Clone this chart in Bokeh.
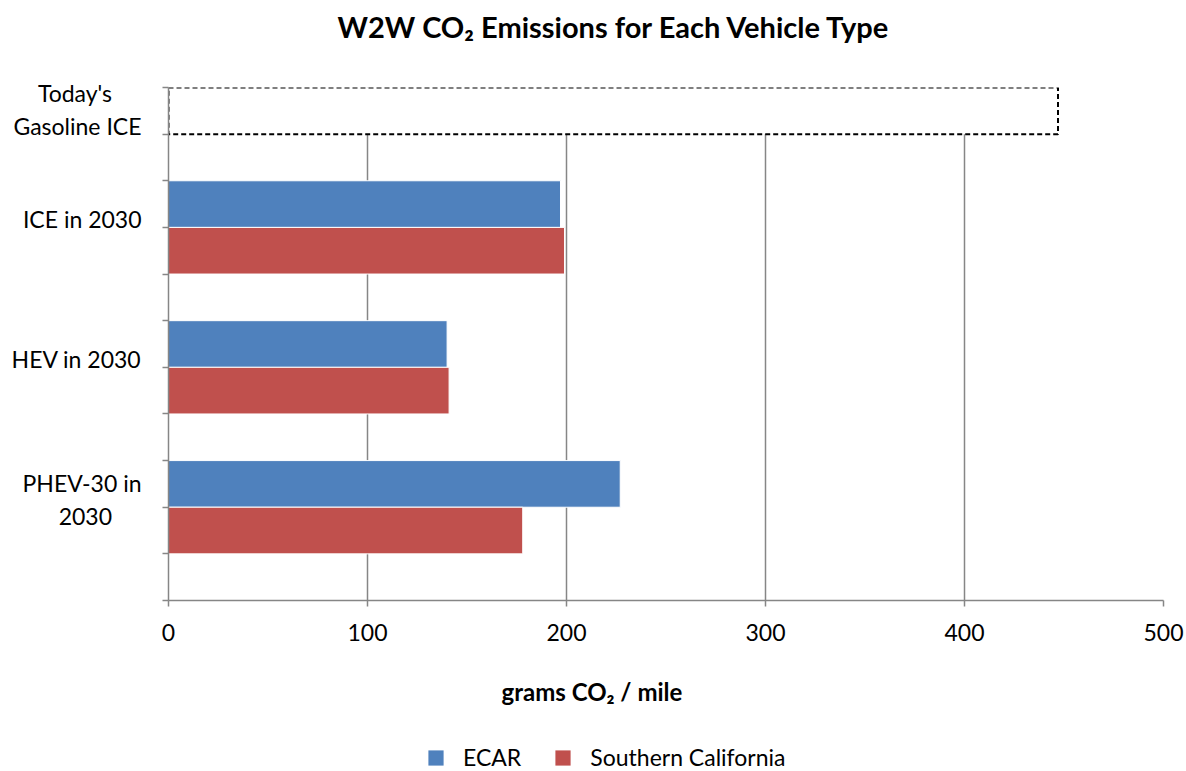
from bokeh.plotting import figure
from bokeh.layouts import column
from bokeh.models import (Range1d, FixedTicker, Title, Legend, LegendItem,
                          ColumnDataSource)
from bokeh.embed import file_html
from bokeh.resources import INLINE

# ---- data ----
vehicles = ["ICE in 2030", "HEV in 2030", "PHEV-30 in\n2030"]
ecar = [197, 140, 227]
socal = [199, 141, 178]
baseline_label = "Today's\nGasoline ICE"
baseline_value = 447
x_ticks = [0, 100, 200, 300, 400, 500]
title_text = "W2W CO\u2082 Emissions for Each Vehicle Type"
xlabel_text = "grams  CO\u2082 / mile"
series_names = ["ECAR", "Southern California"]

FONT = "Lato"
BLUE = "#4F81BD"
RED = "#C0504D"
GRAY = "#868686"
NB = "\u00a0"

def center_lines(text, pads):
    # pad shorter lines with no-break spaces so that lines look centred
    lines = text.split("\n")
    return "\n".join(l + NB * n for l, n in zip(lines, pads))

# slot layout (each slot = one bar; gaps between groups)
n_slots = 11
top_slot = n_slots - 1
blue_y, red_y, label_y = [], [], {}
pads = {"PHEV-30 in\n2030": [0, 5]}
for i, v in enumerate(vehicles):
    b = top_slot - 2 - 3 * i          # bottom of blue slot
    blue_y.append(b + 0.5)
    red_y.append(b - 0.5)
    label_y[b + 0.17] = center_lines(v, pads.get(v, [0, 0]))
label_y[top_slot + 0.53] = center_lines(baseline_label, [5, 0])

MAIN_H = 740
p = figure(width=1186, height=MAIN_H, output_backend="svg", toolbar_location=None,
           x_range=Range1d(0, 500), y_range=Range1d(0, n_slots),
           min_border_left=168, min_border_right=23, min_border_top=87,
           min_border_bottom=MAIN_H - 600)
p.outline_line_color = None
p.background_fill_color = "white"
p.border_fill_color = "white"

src_b = ColumnDataSource(dict(y=blue_y, right=ecar))
src_r = ColumnDataSource(dict(y=red_y, right=socal))
src_g = ColumnDataSource(dict(y=[top_slot + 0.5], right=[baseline_value]))

p.hbar(y="y", right="right", left=0, height=1, source=src_g,
       fill_color="white", line_color="black", line_width=2, line_dash="5 3")
p.hbar(y="y", right="right", left=0, height=1, source=src_b,
       fill_color=BLUE, line_color="white", line_width=1)
p.hbar(y="y", right="right", left=0, height=1, source=src_r,
       fill_color=RED, line_color="white", line_width=1)

# axes
xa = p.xaxis[0]
xa.ticker = FixedTicker(ticks=x_ticks)
xa.axis_line_color = GRAY
xa.axis_line_width = 1.5
xa.major_tick_line_color = GRAY
xa.major_tick_line_width = 1.5
xa.major_tick_out = 6
xa.major_tick_in = 0
xa.minor_tick_line_color = None
xa.major_label_text_font = FONT
xa.major_label_text_font_size = "23px"
xa.major_label_text_color = "black"
xa.major_label_standoff = 17

ya = p.yaxis[0]
ya.ticker = FixedTicker(ticks=sorted(label_y.keys()), minor_ticks=list(range(n_slots + 1)))
ya.major_label_overrides = {k: v for k, v in label_y.items()}
ya.axis_line_color = GRAY
ya.axis_line_width = 1.5
ya.major_tick_line_color = None
ya.major_tick_out = 0
ya.major_tick_in = 0
ya.minor_tick_line_color = GRAY
ya.minor_tick_line_width = 1.5
ya.minor_tick_out = 6
ya.minor_tick_in = 0
ya.major_label_text_font = FONT
ya.major_label_text_font_size = "23px"
ya.major_label_text_color = "black"
ya.major_label_text_line_height = 1.18
ya.major_label_standoff = 21

p.xgrid.grid_line_color = GRAY
p.xgrid.grid_line_width = 1.5
p.ygrid.grid_line_color = None

# title (outermost) with a spacer between it and the frame
p.add_layout(Title(text=" ", text_font_size="10px", standoff=30), "above")
p.title.text = title_text
p.title.text_font = FONT
p.title.text_font_style = "bold"
p.title.text_font_size = "29px"
p.title.text_color = "black"
p.title.align = "left"
p.title.offset = 169
p.title.standoff = 0
p.title.vertical_align = "middle"

# x label below the axis
p.add_layout(Title(text=xlabel_text, text_font=FONT, text_font_style="bold",
                   text_font_size="24px", text_color="black", align="left",
                   offset=333, standoff=64, vertical_align="middle"), "below")

# legend strip under the chart (its frame is aligned with the chart's frame)
lg = figure(width=1186, height=771 - MAIN_H, output_backend="svg", toolbar_location=None,
            x_axis_location=None, y_axis_location=None, min_border=0,
            x_range=Range1d(0, 1), y_range=Range1d(0, 1))
lg.outline_line_color = None
lg.grid.visible = False
# legend swatches: renderers whose only bar lies outside the visible range
lb = lg.hbar(y=[-5], right=[1], left=0, height=1, fill_color=BLUE, line_color=None)
lr = lg.hbar(y=[-5], right=[1], left=0, height=1, fill_color=RED, line_color=None)
legend = Legend(items=[LegendItem(label=series_names[0], renderers=[lb]),
                       LegendItem(label=series_names[1], renderers=[lr])],
                orientation="horizontal", location=(258, 0),
                padding=0, margin=0, spacing=32, label_standoff=18,
                glyph_width=19, glyph_height=19, label_height=20,
                label_text_font=FONT, label_text_font_size="23px",
                label_text_color="black", border_line_color=None,
                background_fill_alpha=0)
lg.add_layout(legend, "center")

open("out.html", "w").write(file_html(column(p, lg, spacing=0), INLINE))
